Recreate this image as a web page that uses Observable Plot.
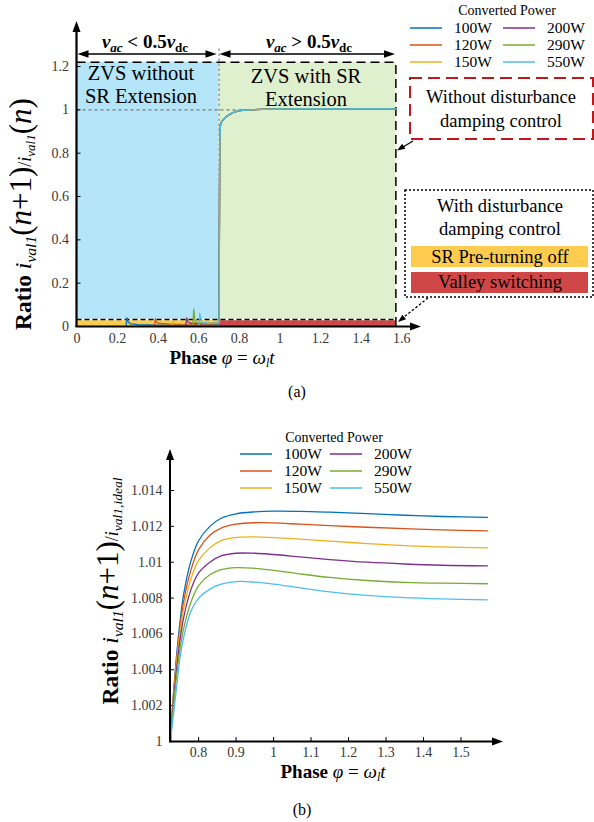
<!DOCTYPE html>
<html><head><meta charset="utf-8">
<script src="https://cdn.jsdelivr.net/npm/d3@7"></script>
<script src="https://cdn.jsdelivr.net/npm/@observablehq/plot@0.6"></script>
<style>
html,body{margin:0;padding:0;background:#fff;}
#wrap{position:relative;width:594px;height:822px;overflow:hidden;}
#wrap svg{position:absolute;left:0;}
</style></head><body><div id="wrap"></div>
<script>
// ---------- shared series ----------
const powers = ["100W","120W","150W","200W","290W","550W"];
const colors = ["#0072BD","#D95319","#EDB120","#7E2F8E","#77AC30","#4DBEEE"];

// ---------- panel (a) ----------
const aXTicks = [0,0.2,0.4,0.6,0.8,1,1.2,1.4,1.6];
const aYTicks = [0,0.2,0.4,0.6,0.8,1,1.2];
const zvsBoundary = 0.7;
const phaseEnd = 1.5708;
const aPre100Phase = [0.242,0.246,0.252,0.265,0.3,0.4,0.5,0.6,0.69,0.698];
const aPre100Ratio = [0.002,0.040,0.022,0.012,0.008,0.006,0.006,0.006,0.008,0.012];
const aPre120Phase = [0.382,0.386,0.392,0.405,0.45,0.55,0.65,0.69,0.698];
const aPre120Ratio = [0.004,0.036,0.020,0.014,0.012,0.011,0.011,0.012,0.014];
const aPre150Phase = [0.468,0.472,0.478,0.49,0.55,0.65,0.698];
const aPre150Ratio = [0.008,0.022,0.016,0.014,0.013,0.013,0.015];
const aPre200Phase = [0.536,0.54,0.546,0.56,0.6,0.65,0.698];
const aPre200Ratio = [0.006,0.040,0.022,0.015,0.013,0.013,0.015];
const aPre290Phase = [0.571,0.575,0.58,0.59,0.62,0.66,0.698];
const aPre290Ratio = [0.008,0.080,0.030,0.018,0.015,0.015,0.016];
const aPre550Phase = [0.601,0.605,0.611,0.62,0.65,0.69,0.698];
const aPre550Ratio = [0.006,0.060,0.030,0.018,0.014,0.014,0.016];
const aRisePhase = [0.7,0.701,0.703,0.706,0.71,0.72,0.735,0.75,0.775,0.8,0.85,0.95,1.1,1.3,1.5708];
const aRiseRatio = [0.016,0.3,0.85,0.925,0.94,0.955,0.968,0.978,0.99,0.996,1.0,1.003,1.004,1.004,1.004];

// ---------- panel (b) ----------
const bXTicks = [0.8,0.9,1,1.1,1.2,1.3,1.4,1.5];
const bYTicks = [1,1.002,1.004,1.006,1.008,1.01,1.012,1.014];
const bPhase = [0.725,0.73,0.74,0.75,0.76,0.78,0.8,0.83,0.86,0.9,0.95,1.0,1.07,1.15,1.25,1.35,1.45,1.5708];
const b100 = [1.0000,1.0018,1.0045,1.0066,1.0082,1.0101,1.0112,1.0120,1.01245,1.01270,1.01281,1.01285,1.01284,1.01279,1.01271,1.01262,1.01255,1.0125];
const b120 = [1.0000,1.0017,1.0043,1.0063,1.0078,1.0096,1.0107,1.0115,1.01190,1.01212,1.01220,1.01219,1.01212,1.01204,1.01195,1.01187,1.01180,1.01175];
const b150 = [1.0000,1.0016,1.0041,1.0060,1.0074,1.0091,1.0101,1.0108,1.01120,1.01138,1.01141,1.01137,1.01129,1.01118,1.01104,1.01093,1.01085,1.0108];
const b200 = [1.0000,1.0015,1.0038,1.0056,1.0069,1.0085,1.0094,1.0100,1.01035,1.01050,1.01050,1.01043,1.01030,1.01015,1.01000,1.00990,1.00983,1.0098];
const b290 = [1.0000,1.0013,1.0034,1.0051,1.0063,1.0078,1.0087,1.0093,1.00958,1.00970,1.00966,1.00955,1.00935,1.00915,1.00898,1.00888,1.00883,1.0088];
const b550 = [1.0000,1.0010,1.0028,1.0046,1.0058,1.0073,1.0080,1.0085,1.00878,1.00892,1.00889,1.00878,1.00857,1.00835,1.00815,1.00802,1.00795,1.0079];

// ---------- build tables ----------
const aPrePhase = [aPre100Phase,aPre120Phase,aPre150Phase,aPre200Phase,aPre290Phase,aPre550Phase];
const aPreRatio = [aPre100Ratio,aPre120Ratio,aPre150Ratio,aPre200Ratio,aPre290Ratio,aPre550Ratio];
const aLines = [];
powers.forEach((p,i)=>{
  aPrePhase[i].forEach((x,j)=>aLines.push({power:p, phase:x, ratio:aPreRatio[i][j]}));
  aRisePhase.forEach((x,j)=>aLines.push({power:p, phase:x, ratio:aRiseRatio[j]}));
});
const bSeries = [b100,b120,b150,b200,b290,b550];
const bLines = [];
powers.forEach((p,i)=>bPhase.forEach((x,j)=>bLines.push({power:p, phase:x, ratio:bSeries[i][j]})));

const FONT = "'Liberation Serif','Times New Roman',serif";
const fmt = d => String(+d.toFixed(3));

// ---------- helpers ----------
function rich(sel, x, y, parts, o={}) {
  const t = sel.append("text")
    .attr("transform", `translate(${x},${y})` + (o.rotate ? ` rotate(${o.rotate})` : ""))
    .attr("text-anchor", o.anchor || "middle").attr("font-family", FONT).attr("fill", o.fill || "#000");
  let cur = 0;
  for (const p of parts) {
    const s = p.shift || 0;
    const ts = t.append("tspan").attr("font-size", p.size).text(p.t);
    if (s - cur) ts.attr("dy", s - cur);
    if (p.i) ts.attr("font-style", "italic");
    if (p.b) ts.attr("font-weight", "bold");
    cur = s;
  }
  return t;
}
function head(sel, x, y, ang, len=10, w=7, fill="#000") {
  sel.append("path").attr("d", `M0,0L${-len},${-w/2}L${-len},${w/2}Z`)
    .attr("transform", `translate(${x},${y}) rotate(${ang})`).attr("fill", fill);
}
function seg(sel, x1, y1, x2, y2, o={}) {
  const l = sel.append("line").attr("x1",x1).attr("y1",y1).attr("x2",x2).attr("y2",y2)
    .attr("stroke", o.stroke || "#000").attr("stroke-width", o.sw || 1.5);
  if (o.dash) l.attr("stroke-dasharray", o.dash);
  return l;
}
function txt(sel, x, y, s, size, o={}) {
  return sel.append("text").attr("x",x).attr("y",y).attr("text-anchor", o.anchor || "middle")
    .attr("font-family", FONT).attr("font-size", size).attr("fill", o.fill || "#000").text(s);
}
function legend(sel, cx, titleY, col1x, col2x, rowY, dy) {
  txt(sel, cx, titleY, "Converted Power", 14);
  powers.forEach((p,i)=>{
    const col = i < 3 ? col1x : col2x, y = rowY + (i % 3) * dy;
    seg(sel, col, y, col + 32, y, {stroke: colors[i], sw: 1.5});
    txt(sel, col + 44, y + 5, p, 15.5, {anchor: "start"});
  });
}

const wrap = d3.select("#wrap");
const axisText = {fontSize: 14, fontFamily: FONT, fill: "#3a3a3a"};

// ---------- panel (a) ----------
const plotA = Plot.plot({
  width: 594, height: 400,
  marginLeft: 76.5, marginRight: 192.7, marginTop: 66, marginBottom: 74,
  style: {fontFamily: FONT, fontSize: "14px", color: "#3a3a3a", background: "transparent", overflow: "visible"},
  x: {domain: [0, 1.6]},
  y: {domain: [0, 1.2]},
  color: {domain: powers, range: colors},
  marks: [
    Plot.rectY([0], {x1: 0, x2: zvsBoundary, y1: 0, y2: 1.22, fill: "#B4E5F8"}),
    Plot.rectY([0], {x1: zvsBoundary, x2: phaseEnd, y1: 0, y2: 1.22, fill: "#DFF0CF"}),
    Plot.rectY([0], {x1: 0, x2: zvsBoundary, y1: 0, y2: 0.032, fill: "#FDCB4D"}),
    Plot.rectY([0], {x1: zvsBoundary, x2: phaseEnd, y1: 0, y2: 0.03, fill: "#CF4747"}),
    Plot.ruleY([0.032], {x1: 0, x2: phaseEnd, stroke: "#fff", strokeWidth: 1.6}),
    Plot.ruleY([0.032], {x1: 0, x2: phaseEnd, stroke: "#000", strokeWidth: 1.6, strokeDasharray: "5,3"}),
    Plot.ruleX([zvsBoundary], {y1: 0, y2: 1.29, stroke: "#888", strokeWidth: 1.2, strokeDasharray: "2.5,2.5"}),
    Plot.ruleY([1], {x1: 0, x2: 0.85, stroke: "#777", strokeWidth: 1.2, strokeDasharray: "3,3"}),
    Plot.ruleY([1.22], {x1: 0, x2: phaseEnd, stroke: "#000", strokeWidth: 1.5, strokeDasharray: "9,5"}),
    Plot.ruleX([phaseEnd], {y1: 0, y2: 1.22, stroke: "#000", strokeWidth: 1.5, strokeDasharray: "9,5"}),
    Plot.line(aLines, {x: "phase", y: "ratio", stroke: "power", z: "power", strokeWidth: 1.3}),
    Plot.axisX(aXTicks, {tickSize: 0, tickPadding: 7, tickFormat: fmt, label: null, ...axisText}),
    Plot.axisY(aYTicks, {tickSize: 0, tickPadding: 8, tickFormat: fmt, label: null, ...axisText}),
    Plot.ruleY(aYTicks.slice(1), {x1: 0, x2: 0.02, stroke: "#000", strokeWidth: 1})
  ]
});
plotA.style.top = "0px";
wrap.node().appendChild(plotA);
d3.select(plotA).selectAll("text").style("font-family", FONT);
const gA = d3.select(plotA).append("g");

// axes with arrows
seg(gA, 76.5, 327, 76.5, 30, {sw: 2.2});
head(gA, 76.5, 21, -90, 11, 8);
seg(gA, 75.5, 326.5, 412, 326.5, {sw: 2.2});
head(gA, 421, 326.5, 0, 11, 8);
// region arrows
seg(gA, 84, 54, 210, 54, {sw: 1.6});
head(gA, 77.5, 54, 180, 11, 7.5); head(gA, 216.5, 54, 0, 11, 7.5);
seg(gA, 226, 54, 388, 54, {sw: 1.6});
head(gA, 219.5, 54, 180, 11, 7.5); head(gA, 395, 54, 0, 11, 7.5);
rich(gA, 145, 48, [{t:"v",i:1,b:1,size:19},{t:"ac",i:1,b:1,size:13,shift:4},{t:" < 0.5",b:1,size:19},{t:"v",i:1,b:1,size:19},{t:"dc",b:1,size:13,shift:4}]);
rich(gA, 309, 48, [{t:"v",i:1,b:1,size:19},{t:"ac",i:1,b:1,size:13,shift:4},{t:" > 0.5",b:1,size:19},{t:"v",i:1,b:1,size:19},{t:"dc",b:1,size:13,shift:4}]);
// region texts
txt(gA, 141, 80, "ZVS without", 20.5);
txt(gA, 141, 103, "SR Extension", 20.5);
txt(gA, 306, 83, "ZVS with SR", 20.5);
txt(gA, 306, 106, "Extension", 20.5);
// legend
legend(gA, 507, 15, 410, 503, 28, 17);
// red dashed box
gA.append("rect").attr("x",410).attr("y",78).attr("width",183).attr("height",61)
  .attr("fill","#fff").attr("stroke","#C0161C").attr("stroke-width",2).attr("stroke-dasharray","12,6");
txt(gA, 501, 103, "Without disturbance", 18.5);
txt(gA, 501, 127, "damping control", 18.5);
seg(gA, 413, 141, 403, 147, {sw: 1.3});
head(gA, 397, 150.5, 148, 8, 6);
// black dotted box
gA.append("rect").attr("x",405).attr("y",190).attr("width",188).attr("height",107)
  .attr("fill","#fff").attr("stroke","#000").attr("stroke-width",1.5).attr("stroke-dasharray","2,2");
txt(gA, 500, 212, "With disturbance", 18.5);
txt(gA, 500, 235, "damping control", 18.5);
gA.append("rect").attr("x",411).attr("y",246).attr("width",177).attr("height",21).attr("fill","#FDCB4D");
txt(gA, 500, 263, "SR Pre-turning off", 18.5);
gA.append("rect").attr("x",411).attr("y",272).attr("width",177).attr("height",21).attr("fill","#CF4747");
txt(gA, 500, 288, "Valley switching", 18.5);
seg(gA, 428, 298, 404, 317, {sw: 1.3, dash: "2.5,2"});
head(gA, 398, 322, 141, 8, 6);
// axis labels
rich(gA, 31, 214, [
  {t:"Ratio ",b:1,size:23.5},{t:"i",i:1,size:24},{t:"val1",i:1,size:15.5,shift:5},
  {t:"(",size:31},{t:"n",i:1,size:31},{t:"+1)",size:31},
  {t:"/",size:18},{t:"i",i:1,size:18},{t:"val1",i:1,size:13,shift:4},
  {t:"(",size:31},{t:"n",i:1,size:31},{t:")",size:31}
], {rotate: -90});
rich(gA, 222, 364, [{t:"Phase ",b:1,size:19},{t:"φ",i:1,size:19},{t:" = ",size:19},{t:"ω",i:1,size:19},{t:"l",i:1,size:12,shift:3},{t:"t",i:1,size:19}]);
txt(gA, 297, 397, "(a)", 16);

// ---------- panel (b) ----------
const plotB = Plot.plot({
  width: 594, height: 422,
  marginLeft: 170, marginRight: 107, marginTop: 90, marginBottom: 81,
  style: {fontFamily: FONT, fontSize: "14px", color: "#3a3a3a", background: "transparent", overflow: "visible"},
  x: {domain: [0.725, 1.5708]},
  y: {domain: [1, 1.014]},
  color: {domain: powers, range: colors},
  marks: [
    Plot.axisX(bXTicks, {tickSize: 0, tickPadding: 6, tickFormat: fmt, label: null, ...axisText}),
    Plot.axisY(bYTicks, {tickSize: 0, tickPadding: 8, tickFormat: fmt, label: null, ...axisText}),
    Plot.ruleY(bYTicks.slice(1), {x1: 0.725, x2: 0.7355, stroke: "#000", strokeWidth: 1}),
    Plot.ruleX(bXTicks, {y1: 1, y2: 1.00022, stroke: "#000", strokeWidth: 1}),
    Plot.line(bLines, {x: "phase", y: "ratio", stroke: "power", z: "power", curve: "catmull-rom", strokeWidth: 1.3})
  ]
});
plotB.style.top = "400px";
wrap.node().appendChild(plotB);
d3.select(plotB).selectAll("text").style("font-family", FONT);
const gB = d3.select(plotB).append("g");
seg(gB, 170, 342, 170, 58, {sw: 2});
head(gB, 170, 49, -90, 11, 8);
seg(gB, 169, 341.5, 494, 341.5, {sw: 2});
head(gB, 503, 341.5, 0, 11, 8);
legend(gB, 334, 42, 240, 330, 54, 17);
rich(gB, 118, 191, [
  {t:"Ratio ",b:1,size:23.5},{t:"i",i:1,size:24},{t:"val1",i:1,size:15.5,shift:5},
  {t:"(",size:31},{t:"n",i:1,size:31},{t:"+1)",size:31},
  {t:"/",size:18},{t:"i",i:1,size:18},{t:"val1,ideal",i:1,size:13.5,shift:4}
], {rotate: -90});
rich(gB, 333, 378, [{t:"Phase ",b:1,size:19},{t:"φ",i:1,size:19},{t:" = ",size:19},{t:"ω",i:1,size:19},{t:"l",i:1,size:12,shift:3},{t:"t",i:1,size:19}]);
txt(gB, 302, 415, "(b)", 16);
</script></body></html>
